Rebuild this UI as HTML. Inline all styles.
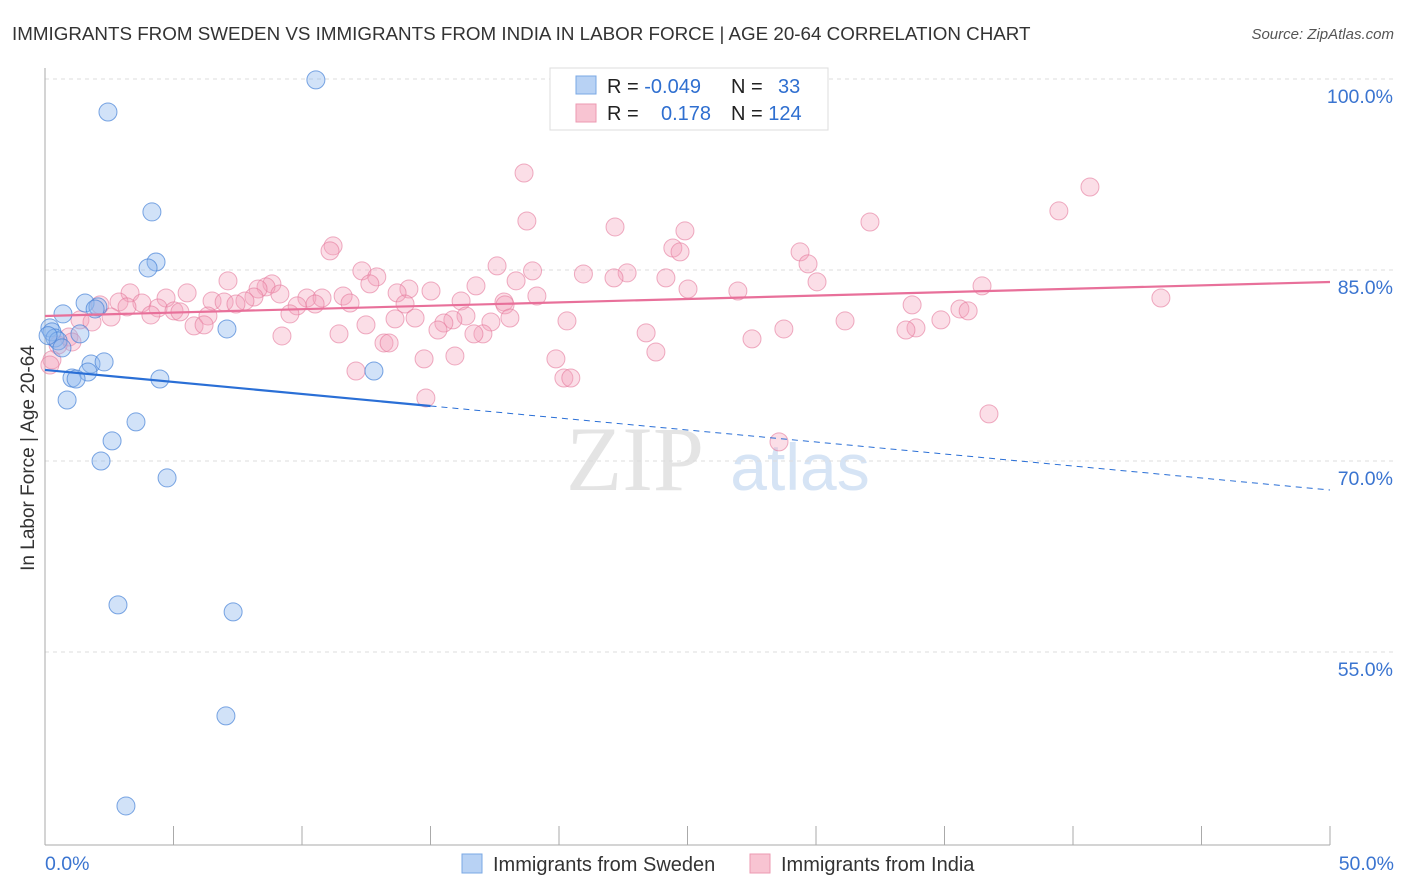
<!DOCTYPE html>
<html><head><meta charset="utf-8"><style>
body{margin:0;background:#fff;font-family:"Liberation Sans",sans-serif;}
#wrap{position:relative;width:1406px;height:892px;overflow:hidden;}
</style></head><body>
<div id="wrap">
<svg id="svg" width="1406" height="892" xmlns="http://www.w3.org/2000/svg">
<text x="12" y="40" font-size="18.8" fill="#333">IMMIGRANTS FROM SWEDEN VS IMMIGRANTS FROM INDIA IN LABOR FORCE | AGE 20-64 CORRELATION CHART</text>
<text x="1394" y="39" font-size="15" fill="#555" font-style="italic" text-anchor="end">Source: ZipAtlas.com</text>
<text x="635" y="490" font-size="92" fill="#e4e4e4" font-family="Liberation Serif,serif" text-anchor="middle">ZIP</text>
<text x="800" y="490" font-size="66" fill="#d6e4f5" text-anchor="middle">atlas</text>
<text transform="translate(34,458) rotate(-90)" font-size="19" fill="#333" text-anchor="middle">In Labor Force | Age 20-64</text>
<g id="grid"></g><g id="pts"></g><g id="lines"></g>
<g>
<rect x="550" y="68" width="278" height="62" fill="#fff" stroke="#ddd"/>
<rect x="576" y="76" width="20" height="18" fill="#b8d2f4" stroke="#7aa8e4"/>
<rect x="576" y="104" width="20" height="18" fill="#f8c4d2" stroke="#ec9ab2"/>
<text x="607" y="93" font-size="20" fill="#222">R = <tspan fill="#2f6fd0">-0.049</tspan></text>
<text x="731" y="93" font-size="20" fill="#222">N = <tspan fill="#2f6fd0" x="778">33</tspan></text>
<text x="607" y="120" font-size="20" fill="#222">R = <tspan fill="#2f6fd0" x="661">0.178</tspan></text>
<text x="731" y="120" font-size="20" fill="#222">N = <tspan fill="#2f6fd0">124</tspan></text>
</g>
<g>
<rect x="462" y="854" width="20" height="19" fill="#b8d2f4" stroke="#7aa8e4"/>
<text x="493" y="871" font-size="20" fill="#333">Immigrants from Sweden</text>
<rect x="750" y="854" width="20" height="19" fill="#f8c4d2" stroke="#ec9ab2"/>
<text x="781" y="871" font-size="20" fill="#333">Immigrants from India</text>
</g>
</svg>
</div>
<script>
const yTicks=[100,85,70,55];
const yTickLabels=["100.0%","85.0%","70.0%","55.0%"];
const xTicks=[0,5,10,15,20,25,30,35,40,45,50];
const xEndLabels=["0.0%","50.0%"];
const swedenX=[10.54,2.45,4.16,4.32,4.01,1.56,2.06,1.95,0.70,7.08,0.19,0.27,1.36,0.39,0.51,0.66,1.79,2.30,1.67,12.80,1.05,1.21,4.47,0.86,3.54,2.61,2.18,4.75,2.84,7.32,7.04,3.15,0.12];
const swedenY=[99.93,97.41,89.56,85.63,85.16,82.41,82.10,81.94,81.55,80.37,80.45,80.14,79.98,79.66,79.43,78.88,77.62,77.78,76.99,77.07,76.52,76.44,76.44,74.79,73.07,71.58,70.00,68.67,58.70,58.15,49.98,42.91,79.85];
const indiaX=[18.64,40.66,39.45,18.75,32.10,22.18,24.90,11.21,11.09,24.43,24.71,29.38,29.69,17.59,12.33,18.97,20.95,22.65,12.91,24.16,22.14,7.12,18.33,30.04,16.77,12.64,8.83,8.60,8.29,36.46,25.02,14.16,15.02,13.70,5.53,3.31,26.96,19.14,43.42,9.14,11.60,8.13,10.19,10.78,4.71,16.19,6.50,6.97,7.78,2.88,3.77,17.86,7.43,11.87,14.01,17.90,10.51,2.14,9.81,3.19,4.40,33.74,35.60,35.92,5.02,5.25,4.12,9.53,6.34,2.57,16.38,18.09,13.62,14.40,1.36,1.83,15.87,34.86,31.13,20.31,17.35,5.80,15.52,6.19,12.49,15.29,33.89,33.50,28.75,17.04,16.69,23.39,9.22,0.93,11.44,27.51,13.19,13.39,1.05,0.51,23.77,15.95,14.75,19.88,0.27,12.10,20.19,20.46,14.82,36.73,28.56,0.19];
const indiaY=[92.62,91.52,89.64,88.85,88.77,88.38,88.07,86.89,86.50,86.73,86.42,86.42,85.48,85.32,84.93,84.93,84.69,84.77,84.46,84.38,84.38,84.15,84.15,84.07,83.75,83.91,83.91,83.67,83.51,83.75,83.51,83.51,83.35,83.20,83.20,83.20,83.35,82.96,82.80,83.12,82.96,82.88,82.80,82.80,82.80,82.57,82.57,82.49,82.57,82.49,82.41,82.49,82.33,82.41,82.33,82.26,82.33,82.26,82.18,82.10,82.02,82.26,81.94,81.79,81.79,81.71,81.47,81.55,81.39,81.31,81.39,81.23,81.16,81.23,81.08,80.92,81.08,81.08,81.00,81.00,80.92,80.61,80.84,80.69,80.69,80.29,80.45,80.29,80.37,79.98,79.98,80.06,79.82,79.74,79.98,79.59,79.27,79.27,79.35,79.11,78.56,78.25,78.02,78.02,77.94,77.07,76.52,76.52,74.95,73.70,71.50,77.54];
const swedenTrend=[77.15,67.72];
const indiaTrend=[81.39,84.06];
const X0=45,X1=1330,Y100=79,PXPER=191/15;
function xs(v){return X0+(v-0)/50*(X1-X0);}
function ys(v){return Y100+(100-v)*PXPER;}
const NS="http://www.w3.org/2000/svg";
function mk(tag,attrs,parent){const e=document.createElementNS(NS,tag);for(const k in attrs)e.setAttribute(k,attrs[k]);parent.appendChild(e);return e;}
const grid=document.getElementById('grid');
yTicks.forEach((t,i)=>{
 const l=mk('line',{x1:X0,x2:1394,y1:ys(t),y2:ys(t),stroke:'#ddd','stroke-dasharray':'4,4'},grid);
 
 
 const tx=mk('text',{x:1393,y:ys(t)+24,'font-size':19.5,fill:'#3a74d0','text-anchor':'end'},grid);
 tx.textContent=yTickLabels[i];
 
 
});
const ax=mk('line',{x1:X0,x2:X0,y1:68,y2:845,stroke:'#aaa'},grid);


const bx=mk('line',{x1:X0,x2:X1,y1:845,y2:845,stroke:'#aaa'},grid);


xTicks.forEach(t=>{
 const l=mk('line',{x1:xs(t),x2:xs(t),y1:826,y2:845,stroke:'#aaa'},grid);
 
 
});
const xl0=mk('text',{x:45,y:870,'font-size':19.5,fill:'#3a74d0'},grid);xl0.textContent=xEndLabels[0];


const xl1=mk('text',{x:1394,y:870,'font-size':19.5,fill:'#3a74d0','text-anchor':'end'},grid);xl1.textContent=xEndLabels[1];


const pts=document.getElementById('pts');
indiaX.forEach((v,i)=>{
 const c=mk('circle',{cx:xs(v),cy:ys(indiaY[i]),r:9,fill:'rgba(244,160,186,0.35)',stroke:'rgba(228,120,155,0.6)','stroke-width':1},pts);
 
 
});
swedenX.forEach((v,i)=>{
 const c=mk('circle',{cx:xs(v),cy:ys(swedenY[i]),r:9,fill:'rgba(140,182,238,0.4)',stroke:'rgba(70,130,215,0.7)','stroke-width':1},pts);
 
 
});
const lines=document.getElementById('lines');
const pl=mk('line',{x1:xs(0),y1:ys(indiaTrend[0]),x2:xs(50),y2:ys(indiaTrend[1]),stroke:'#e8709a','stroke-width':2.2},lines);


const bAt=v=>swedenTrend[0]+(swedenTrend[1]-swedenTrend[0])*v/50;
const bl=mk('line',{x1:xs(0),y1:ys(bAt(0)),x2:xs(15),y2:ys(bAt(15)),stroke:'#2a6fd6','stroke-width':2.2},lines);


const bd=mk('line',{x1:xs(15),y1:ys(bAt(15)),x2:xs(50),y2:ys(bAt(50)),stroke:'#2a6fd6','stroke-width':1,'stroke-dasharray':'6,5'},lines);


</script>
</body></html>
